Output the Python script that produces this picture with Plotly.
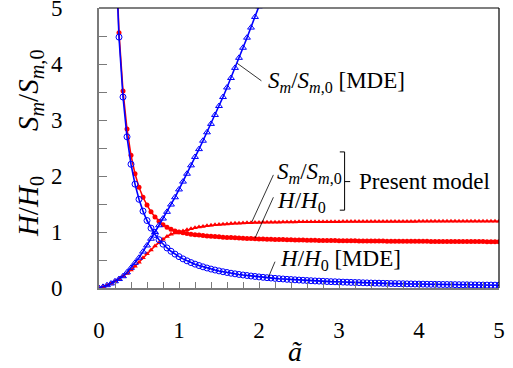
import plotly.graph_objects as go

# ---------------- data ----------------
a_vals = [
    0.00, 0.05, 0.10, 0.15, 0.20, 0.25, 0.30, 0.35, 0.40, 0.45,
    0.50, 0.55, 0.60, 0.65, 0.70, 0.75, 0.80, 0.85, 0.90, 0.95,
    1.00, 1.05, 1.10, 1.15, 1.20, 1.25, 1.30, 1.35, 1.40, 1.45,
    1.50, 1.55, 1.60, 1.65, 1.70, 1.75, 1.80, 1.85, 1.90, 1.95,
    2.00, 2.05, 2.10, 2.15, 2.20, 2.25, 2.30, 2.35, 2.40, 2.45,
    2.50, 2.55, 2.60, 2.65, 2.70, 2.75, 2.80, 2.85, 2.90, 2.95,
    3.00, 3.05, 3.10, 3.15, 3.20, 3.25, 3.30, 3.35, 3.40, 3.45,
    3.50, 3.55, 3.60, 3.65, 3.70, 3.75, 3.80, 3.85, 3.90, 3.95,
    4.00, 4.05, 4.10, 4.15, 4.20, 4.25, 4.30, 4.35, 4.40, 4.45,
    4.50, 4.55, 4.60, 4.65, 4.70, 4.75, 4.80, 4.85, 4.90, 4.95,
    5.00,
]

# H/H0 [MDE]
h_mde = [
    None, 50.1, 17.7, 9.64, 6.26, 4.48, 3.41, 2.70, 2.21, 1.855,
    1.584, 1.373, 1.205, 1.069, 0.956, 0.862, 0.783, 0.715, 0.656, 0.605,
    0.560, 0.520, 0.485, 0.454, 0.426, 0.401, 0.378, 0.357, 0.338, 0.321,
    0.305, 0.290, 0.277, 0.264, 0.253, 0.242, 0.232, 0.223, 0.214, 0.206,
    0.198, 0.191, 0.184, 0.178, 0.172, 0.166, 0.161, 0.155, 0.151, 0.146,
    0.142, 0.138, 0.134, 0.130, 0.126, 0.123, 0.120, 0.116, 0.113, 0.111,
    0.108, 0.105, 0.103, 0.100, 0.098, 0.096, 0.093, 0.091, 0.089, 0.087,
    0.086, 0.084, 0.082, 0.080, 0.079, 0.077, 0.076, 0.074, 0.073, 0.071,
    0.070, 0.069, 0.067, 0.066, 0.065, 0.064, 0.063, 0.062, 0.061, 0.060,
    0.059, 0.058, 0.057, 0.056, 0.055, 0.054, 0.053, 0.052, 0.052, 0.051,
    0.050,
]

# Sm/Sm,0 [MDE] (leaves the chart near a = 2)
sm_mde = [
    0.00, 0.02, 0.05, 0.08, 0.12, 0.16, 0.21, 0.28, 0.36, 0.45,
    0.54, 0.65, 0.76, 0.88, 1.00, 1.12, 1.24, 1.36, 1.49, 1.62,
    1.76, 1.90, 2.04, 2.19, 2.34, 2.48, 2.63, 2.78, 2.93, 3.09,
    3.25, 3.41, 3.58, 3.75, 3.93, 4.11, 4.29, 4.47, 4.65, 4.84,
    5.03, 5.22,
]

# H/H0 present model
h_present = [
    None, 52.0, 18.5, 10.0, 6.45, 4.56, 3.52, 2.84, 2.37, 2.04,
    1.80, 1.62, 1.48, 1.36, 1.27, 1.19, 1.13, 1.085, 1.05, 1.02,
    1.000, 0.985, 0.972, 0.962, 0.953, 0.945, 0.937, 0.930, 0.924, 0.918,
    0.913, 0.908, 0.904, 0.900, 0.896, 0.892, 0.889, 0.886, 0.883, 0.880,
    0.877, 0.875, 0.872, 0.870, 0.868, 0.866, 0.864, 0.862, 0.860, 0.858,
    0.857, 0.855, 0.854, 0.852, 0.851, 0.850, 0.849, 0.848, 0.847, 0.846,
    0.845, 0.844, 0.843, 0.843, 0.842, 0.841, 0.840, 0.840, 0.839, 0.839,
    0.838, 0.838, 0.837, 0.837, 0.836, 0.836, 0.835, 0.835, 0.834, 0.834,
    0.833, 0.833, 0.833, 0.832, 0.832, 0.832, 0.831, 0.831, 0.831, 0.830,
    0.830, 0.830, 0.830, 0.829, 0.829, 0.829, 0.829, 0.828, 0.828, 0.828,
    0.828,
]

# Sm/Sm,0 present model
sm_present = [
    0.00, 0.02, 0.05, 0.08, 0.12, 0.16, 0.21, 0.26, 0.32, 0.39,
    0.46, 0.54, 0.61, 0.68, 0.75, 0.81, 0.87, 0.92, 0.96, 0.98,
    1.000, 1.020, 1.040, 1.060, 1.075, 1.090, 1.100, 1.110, 1.120, 1.128,
    1.135, 1.140, 1.145, 1.150, 1.155, 1.158, 1.161, 1.164, 1.166, 1.168,
    1.170, 1.172, 1.173, 1.174, 1.175, 1.176, 1.177, 1.178, 1.179, 1.180,
    1.181, 1.181, 1.182, 1.182, 1.183, 1.183, 1.184, 1.184, 1.185, 1.185,
    1.185, 1.186, 1.186, 1.186, 1.187, 1.187, 1.187, 1.187, 1.188, 1.188,
    1.188, 1.188, 1.188, 1.189, 1.189, 1.189, 1.189, 1.189, 1.189, 1.189,
    1.190, 1.190, 1.190, 1.190, 1.190, 1.190, 1.190, 1.190, 1.190, 1.190,
    1.190, 1.190, 1.190, 1.190, 1.190, 1.190, 1.190, 1.190, 1.190, 1.190,
    1.190,
]

x_ticks = [0, 1, 2, 3, 4, 5]
y_ticks = [0, 1, 2, 3, 4, 5]

BLUE = "#0000ff"
RED = "#ff0000"
GRAY = "#7a7a7a"
FONT = "Liberation Serif, Times New Roman, Times, DejaVu Serif, serif"

fig = go.Figure()

# Present model (red)
fig.add_trace(go.Scatter(
    x=a_vals, y=sm_present, mode="lines+markers",
    line=dict(color=RED, width=1.5),
    marker=dict(symbol="triangle-up", size=5, color=RED),
    showlegend=False))
fig.add_trace(go.Scatter(
    x=a_vals, y=h_present, mode="lines+markers",
    line=dict(color=RED, width=1.5),
    marker=dict(symbol="circle", size=5, color=RED),
    showlegend=False))

# MDE (blue)
fig.add_trace(go.Scatter(
    x=a_vals[:len(sm_mde)], y=sm_mde, mode="lines+markers",
    line=dict(color=BLUE, width=1.6),
    marker=dict(symbol="triangle-up-open", size=6, color=BLUE, line=dict(width=1)),
    showlegend=False))
fig.add_trace(go.Scatter(
    x=a_vals, y=h_mde, mode="lines+markers",
    line=dict(color=BLUE, width=1.6),
    marker=dict(symbol="circle-open", size=6, color=BLUE, line=dict(width=1)),
    showlegend=False))

shapes = []
def seg(x0, y0, x1, y1, color="black", width=0.8):
    shapes.append(dict(type="line", xref="x", yref="y", x0=x0, y0=y0, x1=x1, y1=y1,
                       line=dict(color=color, width=width)))

# leader lines
seg(1.73, 4.01, 2.03, 3.70)
seg(2.18, 2.02, 1.91, 1.18)
seg(2.18, 1.62, 1.95, 0.89)
seg(2.20, 0.47, 2.12, 0.20)
# bracket
seg(3.07, 2.43, 3.07, 1.39, width=1)
seg(3.01, 2.43, 3.07, 2.43, width=1)
seg(3.01, 1.39, 3.07, 1.39, width=1)
seg(3.07, 1.90, 3.14, 1.90, width=1)
# top / right frame
shapes.append(dict(type="line", xref="paper", yref="paper", x0=0, y0=1, x1=1, y1=1,
                   line=dict(color="black", width=1.2)))
shapes.append(dict(type="line", xref="paper", yref="paper", x0=1, y0=0, x1=1, y1=1,
                   line=dict(color="black", width=1.2)))

tf = dict(family=FONT, size=23, color="black")
ann = [
    dict(x=2.09, y=3.68, xref="x", yref="y", xanchor="left", yanchor="middle", showarrow=False,
         text="<i>S<sub>m</sub></i>/<i>S<sub>m</sub></i><sub>,0</sub> [MDE]", font=tf),
    dict(x=2.20, y=2.05, xref="x", yref="y", xanchor="left", yanchor="middle", showarrow=False,
         text="<i>S<sub>m</sub></i>/<i>S<sub>m</sub></i><sub>,0</sub>", font=tf),
    dict(x=2.20, y=1.54, xref="x", yref="y", xanchor="left", yanchor="middle", showarrow=False,
         text="<i>H</i>/<i>H</i><sub>0</sub>", font=tf),
    dict(x=3.22, y=1.90, xref="x", yref="y", xanchor="left", yanchor="middle", showarrow=False,
         text="Present model", font=tf),
    dict(x=2.24, y=0.50, xref="x", yref="y", xanchor="left", yanchor="middle", showarrow=False,
         text="<i>H</i>/<i>H</i><sub>0</sub> [MDE]", font=tf),
    # axis titles
    dict(x=0.49, y=-0.225, xref="paper", yref="paper", xanchor="center", yanchor="middle",
         showarrow=False, text="<i>ã</i>", font=dict(family=FONT, size=28, color="black")),
    dict(x=-0.1725, y=0.707, xref="paper", yref="paper", xanchor="center", yanchor="middle",
         showarrow=False, textangle=-90,
         text="<i>S<sub>m</sub></i>/<i>S<sub>m</sub></i><sub>,0</sub>",
         font=dict(family=FONT, size=29, color="black")),
    dict(x=-0.1725, y=0.289, xref="paper", yref="paper", xanchor="center", yanchor="middle",
         showarrow=False, textangle=-90,
         text="<i>H</i>/<i>H</i><sub>0</sub>",
         font=dict(family=FONT, size=29, color="black")),
]

fig.update_layout(
    width=513, height=368,
    margin=dict(l=99, r=14, t=8, b=80),
    paper_bgcolor="white", plot_bgcolor="white",
    font=dict(family=FONT, size=23, color="black"),
    shapes=shapes, annotations=ann,
    xaxis=dict(range=[0, 5], tickmode="array", tickvals=x_ticks,
               ticks="inside", ticklen=6, tickcolor=GRAY, tickwidth=1,
               showline=True, linecolor=GRAY, linewidth=2,
               showgrid=False, zeroline=False, automargin=False,
               tickfont=dict(family=FONT, size=23, color="black"),
               ticklabelstandoff=20, ticklabeloverflow="allow",
               minor=dict(dtick=0.2, ticks="inside", ticklen=6, tickcolor=GRAY, showgrid=False)),
    yaxis=dict(range=[0, 5], tickmode="array", tickvals=y_ticks,
               ticks="inside", ticklen=8, tickcolor=GRAY, tickwidth=1,
               showline=True, linecolor=GRAY, linewidth=2,
               showgrid=False, zeroline=False, automargin=False,
               tickfont=dict(family=FONT, size=23, color="black"),
               ticklabelstandoff=30, ticklabeloverflow="allow",
               minor=dict(dtick=0.5, ticks="inside", ticklen=8, tickcolor=GRAY, showgrid=False)),
)

fig.write_html("out.html",
               config={"displayModeBar": False, "staticPlot": True},
               post_script="document.body.style.margin='0';document.body.style.padding='0';")
